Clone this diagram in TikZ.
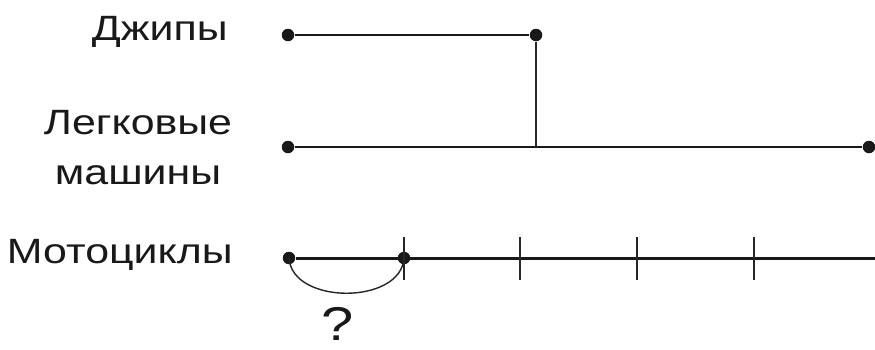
\documentclass[tikz,border=0pt]{standalone}
\usepackage{fontspec}
\setmainfont[FakeStretch=1.22]{Liberation Sans}
\tikzset{
    dot/.style={circle, fill=black!90, inner sep=0pt, minimum size=0.25cm},
    bigline/.style={line width=1.7pt, black!90},
    thinline/.style={line width=1.1pt, black!85},
    label/.style={font=\fontsize{20}{28.5}\selectfont, text=black!90, inner sep=0pt}
}
\begin{document}
\begin{tikzpicture}[x=0.02cm, y=-0.02cm]
    \useasboundingbox (0,0) rectangle (875,349);
    \node[label, anchor=base east] (jeeps) at (228,40) {Джипы};
    \node[label, anchor=center, align=center] (cars) at (138,148) {Легковые\\машины};
    \node[label, anchor=base east] (moto) at (233,263) {Мотоциклы};

    \node[dot] (j1) at (288,35) {};
    \node[dot] (j2) at (536,35) {};
    \node[dot] (c1) at (288,147) {};
    \node[dot] (c2) at (869,147) {};
    \coordinate (cm) at (536,147);
    \node[dot] (m0) at (289,258) {};
    \node[dot] (m1) at (404,258) {};
    \coordinate (mend) at (875,258);

    \draw[bigline] (j1) -- (j2);
    \draw[bigline] (c1) -- (c2);
    \draw[thinline] (j2) -- (cm);
    \draw[bigline] (m0) -- (mend);
    \foreach \x in {404,520,637,754}
        \draw[thinline] (\x,237) -- (\x,280);
    \draw[line width=0.8pt, black!85] (m0.center) .. controls (292,305) and (401,305) .. (m1.center);
    \node[font=\fontsize{27}{30}\selectfont, text=black!90, inner sep=0pt, anchor=base] (q) at (338,340) {?};
\end{tikzpicture}
\end{document}
